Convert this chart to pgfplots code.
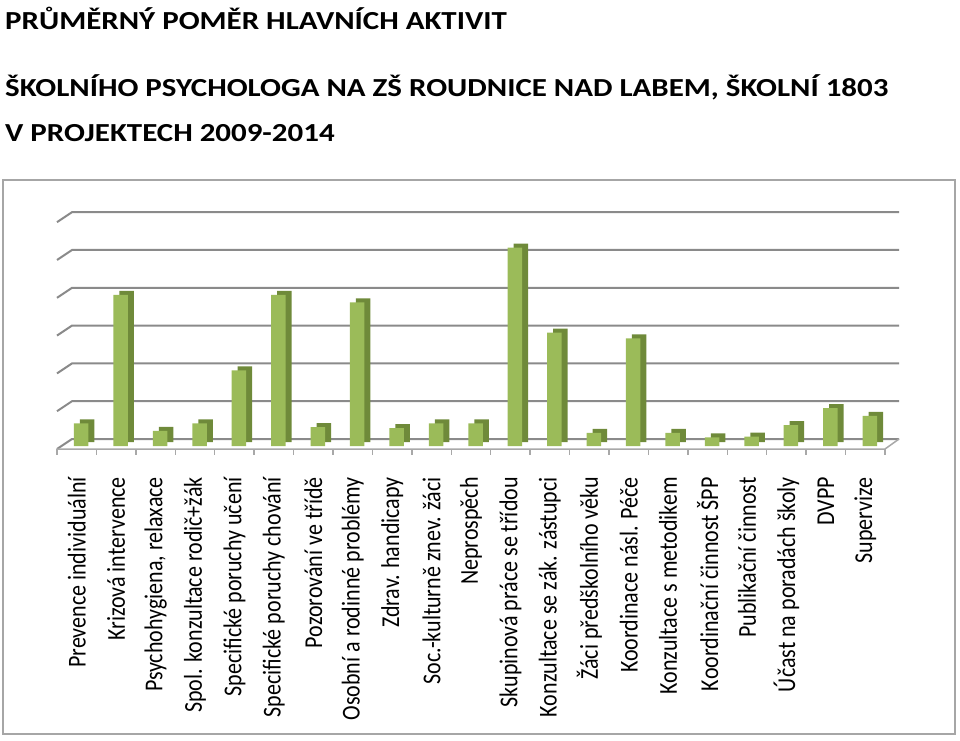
\documentclass[border=0pt]{standalone}
\usepackage{fontspec}
\setmainfont{Carlito}
\usepackage{graphicx}
\usepackage{pgfplots}
\usepackage{pgfplotstable}
\pgfplotsset{compat=1.18}
\definecolor{barfront}{HTML}{9BBB59}
\definecolor{barside}{HTML}{6F8A3A}
\definecolor{gridg}{HTML}{8A8A8A}
\definecolor{floorg}{HTML}{A8A8A8}
\definecolor{frameg}{HTML}{A6A6A6}
\newcommand{\sxl}[1]{\scalebox{1}[1.17]{#1}}
\newcommand{\tl}[1]{\scalebox{1.19}[1]{#1}}
\pgfplotstableread{
x y
0 0.6
1 4.0
2 0.4
3 0.6
4 2.0
5 4.0
6 0.5
7 3.8
8 0.47
9 0.6
10 0.6
11 5.25
12 3.0
13 0.35
14 2.85
15 0.35
16 0.23
17 0.25
18 0.55
19 1.0
20 0.8
}\data
\begin{document}
\begin{tikzpicture}[x=1pt,y=1pt]
\useasboundingbox (0,0) rectangle (960,740);
\draw[frameg, line width=1.5pt] (3,6) rectangle (955,560);
\node[anchor=base west, inner sep=0pt, font=\fontsize{26}{30}\selectfont\bfseries] at (5,710) {\tl{PRŮMĚRNÝ POMĚR HLAVNÍCH AKTIVIT}};
\node[anchor=base west, inner sep=0pt, font=\fontsize{26}{30}\selectfont\bfseries] at (5,643) {\tl{ŠKOLNÍHO PSYCHOLOGA NA ZŠ ROUDNICE NAD LABEM, ŠKOLNÍ 1803}};
\node[anchor=base west, inner sep=0pt, font=\fontsize{26}{30}\selectfont\bfseries] at (5,598) {\tl{V PROJEKTECH 2009-2014}};
\foreach \k in {0,...,6} {
  \draw[gridg, line width=2pt] (57,{291+37.8*\k}) -- (72,{301+37.8*\k}) -- (899,{301+37.8*\k});
}
\draw[floorg, line width=1.5pt] (57,291) -- (885,291) -- (899,301);
\foreach \i in {0,...,21} {
  \draw[floorg, line width=1.5pt] ({57+\i*39.4286},291) -- ++(0,-6);
}
\begin{axis}[
  at={(57pt,294pt)}, anchor=south west,
  scale only axis, width=828pt, height=245.7pt,
  xmin=-0.5, xmax=20.5, ymin=0, ymax=6.5,
  clip=false,
  axis line style={draw=none},
  major tick length=0pt,
  ytick=\empty,
  xtick={0,...,20},
  xticklabels={\sxl{Prevence individuální}, \sxl{Krizová intervence}, \sxl{Psychohygiena, relaxace}, \sxl{Spol. konzultace rodič+žák}, \sxl{Specifické poruchy učení}, \sxl{Specifické poruchy chování}, \sxl{Pozorování ve třídě}, \sxl{Osobní a rodinné problémy}, \sxl{Zdrav. handicapy}, \sxl{Soc.-kulturně znev. žáci}, \sxl{Neprospěch}, \sxl{Skupinová práce se třídou}, \sxl{Konzultace se zák. zástupci}, \sxl{Žáci předškolního věku}, \sxl{Koordinace násl. Péče}, \sxl{Konzultace s metodikem}, \sxl{Koordinační činnost ŠPP}, \sxl{Publikační činnost}, \sxl{Účast na poradách školy}, \sxl{DVPP}, \sxl{Supervize}},
  xticklabel style={yshift=-31pt, rotate=90, anchor=east, inner sep=0pt, font=\fontsize{22}{22}\selectfont},
]
\addplot[ybar, bar width=14.5pt, bar shift=10.5pt, yshift=4pt, fill=barside, draw=none] table[x=x,y=y] {\data};
\addplot[ybar, bar width=14.5pt, bar shift=4.5pt, fill=barfront, draw=none] table[x=x,y=y] {\data};
\end{axis}
\end{tikzpicture}
\end{document}
